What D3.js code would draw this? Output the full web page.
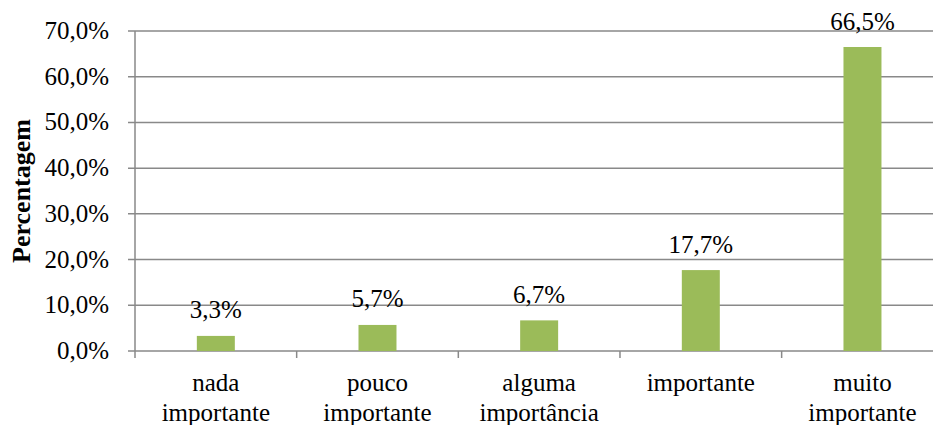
<!DOCTYPE html>
<html>
<head>
<meta charset="utf-8">
<script src="https://cdn.jsdelivr.net/npm/d3@7"></script>
<style>
  html, body { margin: 0; padding: 0; background: #fff; }
</style>
</head>
<body>
<div id="svgContainer"></div>
<script>
const categories = [["nada", "importante"], ["pouco", "importante"], ["alguma", "importância"], ["importante"], ["muito", "importante"]];
const values = [3.3, 5.7, 6.7, 17.7, 66.5];
const yTicks = [0, 10, 20, 30, 40, 50, 60, 70];

const width = 933, height = 425;
const plotLeft = 135, plotRight = 943.3, plotTop = 31, plotBottom = 351;
const gridColor = "#898989";

const locale = d3.formatLocale({decimal: ",", thousands: ".", grouping: [3], currency: ["", ""]});
const fmt = v => locale.format(".1f")(v) + "%";

const svg = d3.select("#svgContainer")
  .append("svg")
  .attr("width", width)
  .attr("height", height)
  .attr("font-family", "'Liberation Serif', 'Times New Roman', Times, 'DejaVu Serif', serif")
  .attr("fill", "#000");

const idx = d3.range(categories.length);
const x = d3.scaleBand()
  .domain(idx)
  .range([plotLeft, plotRight])
  .paddingInner(0.765)
  .paddingOuter(0.3825);

const y = d3.scaleLinear()
  .domain([0, 70])
  .range([plotBottom, plotTop]);

// gridlines
svg.append("g")
  .selectAll("line")
  .data(yTicks)
  .enter()
  .append("line")
  .attr("x1", plotLeft - 7)
  .attr("x2", width)
  .attr("y1", d => y(d))
  .attr("y2", d => y(d))
  .attr("stroke", gridColor)
  .attr("stroke-width", 1.5);

// y axis line
svg.append("line")
  .attr("x1", plotLeft).attr("x2", plotLeft)
  .attr("y1", y(70)).attr("y2", plotBottom + 7)
  .attr("stroke", gridColor)
  .attr("stroke-width", 1.5);

// category tick marks at band edges
const step = x.step();
svg.append("g")
  .selectAll("line")
  .data(d3.range(1, categories.length + 1))
  .enter()
  .append("line")
  .attr("x1", d => plotLeft + d * step)
  .attr("x2", d => plotLeft + d * step)
  .attr("y1", plotBottom)
  .attr("y2", plotBottom + 7)
  .attr("stroke", gridColor)
  .attr("stroke-width", 1.5);

// y tick labels
svg.append("g")
  .selectAll("text")
  .data(yTicks)
  .enter()
  .append("text")
  .attr("x", 109)
  .attr("y", d => y(d))
  .attr("dy", "0.32em")
  .attr("text-anchor", "end")
  .attr("font-size", 25)
  .text(d => fmt(d));

// bars
svg.selectAll(".bars")
  .data(values)
  .enter()
  .append("rect")
  .attr("class", "bars")
  .attr("x", (d, i) => x(i))
  .attr("y", d => y(d))
  .attr("width", x.bandwidth())
  .attr("height", d => plotBottom - y(d))
  .attr("fill", "#9bbb59");

// value labels
svg.append("g")
  .selectAll("text")
  .data(values)
  .enter()
  .append("text")
  .attr("x", (d, i) => x(i) + x.bandwidth() / 2)
  .attr("y", d => y(d) - 17.5)
  .attr("text-anchor", "middle")
  .attr("font-size", 25)
  .text(d => fmt(d));

// category labels
const cat = svg.append("g")
  .selectAll("text")
  .data(categories)
  .enter()
  .append("text")
  .attr("text-anchor", "middle")
  .attr("font-size", 25);

cat.selectAll("tspan")
  .data((d, i) => d.map(t => ({t, i})))
  .enter()
  .append("tspan")
  .attr("x", d => x(d.i) + x.bandwidth() / 2)
  .attr("y", (d, j) => 390.5 + j * 30)
  .text(d => d.t);

// y axis title
svg.append("text")
  .attr("transform", "translate(29.5," + ((plotTop + plotBottom) / 2) + ") rotate(-90)")
  .attr("text-anchor", "middle")
  .attr("font-size", 26)
  .attr("font-weight", "bold")
  .text("Percentagem");
</script>
</body>
</html>
